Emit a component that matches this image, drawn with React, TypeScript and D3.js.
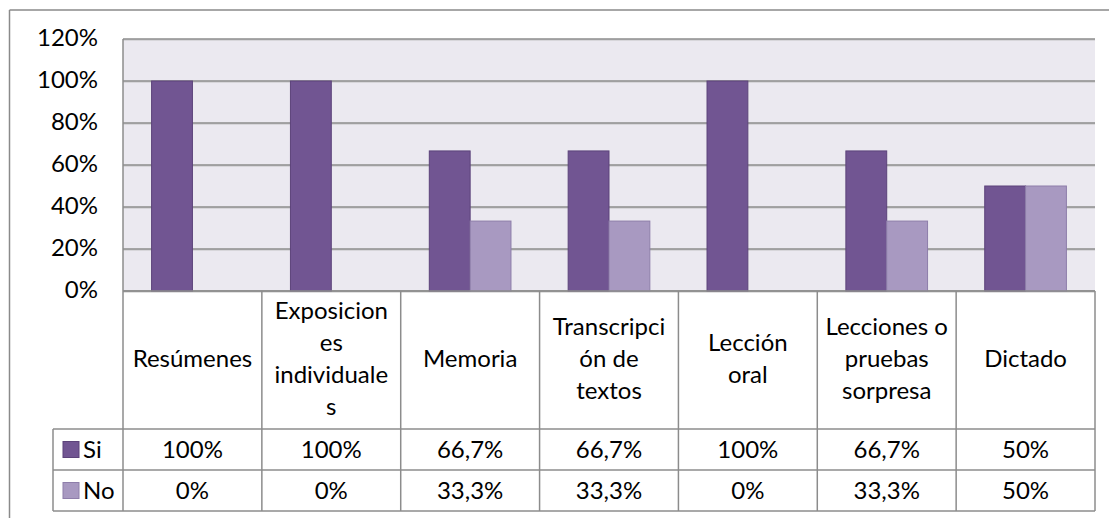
import React from "react";
import * as d3 from "d3";

const categories: string[][] = [
  ["Resúmenes"],
  ["Exposicion", "es", "individuale", "s"],
  ["Memoria"],
  ["Transcripci", "ón de", "textos"],
  ["Lección", "oral"],
  ["Lecciones o", "pruebas", "sorpresa"],
  ["Dictado"],
];
const seriesNames = ["Si", "No"];
const siValues = [100, 100, 66.7, 66.7, 100, 66.7, 50];
const noValues = [0, 0, 33.3, 33.3, 0, 33.3, 50];
const siLabels = ["100%", "100%", "66,7%", "66,7%", "100%", "66,7%", "50%"];
const noLabels = ["0%", "0%", "33,3%", "33,3%", "0%", "33,3%", "50%"];
const yTicks = [0, 20, 40, 60, 80, 100, 120];

const W = 1109;
const H = 518;
const plotL = 123;
const plotR = 1095;
const plotT = 39;
const plotB = 291;
const catRowB = 429;
const siRowB = 470;
const noRowB = 511;
const legL = 53;
const font = "Lato, 'Open Sans', sans-serif";
const fs = 24;
const colors = ["#715592", "#a899c1"];
const strokes = ["#5c437a", "#8e7eaa"];
const lineC = "#8c8c8c";

export default function App() {
  const x = d3
    .scaleBand<number>()
    .domain(d3.range(categories.length))
    .range([plotL, plotR]);
  const y = d3.scaleLinear().domain([0, 120]).range([plotB, plotT]);
  const barW = x.bandwidth() / 3.4;
  const sub = d3
    .scaleBand<number>()
    .domain([0, 1])
    .range([0, barW * 2]);
  const series = [siValues, noValues];
  const rowLabels = [siLabels, noLabels];
  const colBounds = d3.range(categories.length + 1).map((i) =>
    i < categories.length ? (x(i) as number) : plotR
  );
  const lineH = 32;
  const catMid = (plotB + catRowB) / 2 - 1;

  return (
    <svg
      width={W}
      height={H}
      style={{ position: "absolute", left: 0, top: 0 }}
      fontFamily={font}
    >
      <rect x={0} y={0} width={W} height={H} fill="#ffffff" />
      {/* outer chart border */}
      <line x1={9.5} y1={10} x2={W} y2={10} stroke="#8a8a8a" strokeWidth={1.5} />
      <line x1={9.5} y1={10} x2={9.5} y2={H} stroke="#8a8a8a" strokeWidth={1.5} />
      {/* plot background */}
      <rect x={plotL} y={plotT} width={plotR - plotL} height={plotB - plotT} fill="#ebe9f0" />
      {/* grid lines */}
      {yTicks.map((t) => (
        <g key={t}>
          <line x1={plotL} x2={plotR} y1={y(t) + 1} y2={y(t) + 1} stroke="#c4c4c4" strokeWidth={1} />
          <line x1={plotL} x2={plotR} y1={y(t)} y2={y(t)} stroke={lineC} strokeWidth={1.3} />
        </g>
      ))}
      {/* y-axis labels */}
      {yTicks.map((t) => (
        <text
          key={"l" + t}
          x={98}
          y={y(t) - 1}
          dy="0.35em"
          textAnchor="end"
          fontSize={fs}
          fill="#000"
        >
          {t}%
        </text>
      ))}
      {/* bars */}
      {series.map((vals, si) =>
        vals.map((v, i) => {
          const cx = (x(i) as number) + x.bandwidth() / 2;
          const bx = cx - barW + (sub(si) as number);
          const top = y(v);
          if (v <= 0) return null;
          return (
            <rect
              key={si + "-" + i}
              x={bx}
              y={top}
              width={barW}
              height={plotB - top}
              fill={colors[si]}
              stroke={strokes[si]}
              strokeWidth={1}
            />
          );
        })
      )}
      {/* table lines */}
      <g stroke={lineC} strokeWidth={1.5} fill="none">
        <line x1={plotL} x2={plotL} y1={plotT} y2={noRowB} />
        {colBounds.slice(1).map((b, i) => (
          <line key={"v" + i} x1={b} x2={b} y1={plotB} y2={noRowB} />
        ))}
        <line x1={legL} x2={legL} y1={catRowB} y2={noRowB} />
        <line x1={plotL} x2={plotR} y1={plotB} y2={plotB} />
        <line x1={legL} x2={plotR} y1={catRowB} y2={catRowB} />
        <line x1={legL} x2={plotR} y1={siRowB} y2={siRowB} />
        <line x1={legL} x2={plotR} y1={noRowB} y2={noRowB} />
      </g>
      {/* category labels */}
      {categories.map((lines, i) => {
        const cx = (x(i) as number) + x.bandwidth() / 2;
        const start = catMid - ((lines.length - 1) * lineH) / 2;
        return (
          <text key={"c" + i} textAnchor="middle" fontSize={fs} fill="#000">
            {lines.map((ln, j) => (
              <tspan key={j} x={cx} y={start + j * lineH} dy="0.35em">
                {ln}
              </tspan>
            ))}
          </text>
        );
      })}
      {/* legend + values */}
      {seriesNames.map((name, si) => {
        const rt = si === 0 ? catRowB : siRowB;
        const rb = si === 0 ? siRowB : noRowB;
        const my = (rt + rb) / 2;
        return (
          <g key={name}>
            <rect
              x={63}
              y={my - 8}
              width={16}
              height={16}
              fill={colors[si]}
              stroke={strokes[si]}
              strokeWidth={1}
            />
            <text x={83} y={my} dy="0.35em" fontSize={fs} fill="#000">
              {name}
            </text>
            {rowLabels[si].map((lab, i) => (
              <text
                key={i}
                x={(x(i) as number) + x.bandwidth() / 2}
                y={my}
                dy="0.35em"
                textAnchor="middle"
                fontSize={fs}
                fill="#000"
              >
                {lab}
              </text>
            ))}
          </g>
        );
      })}
    </svg>
  );
}
